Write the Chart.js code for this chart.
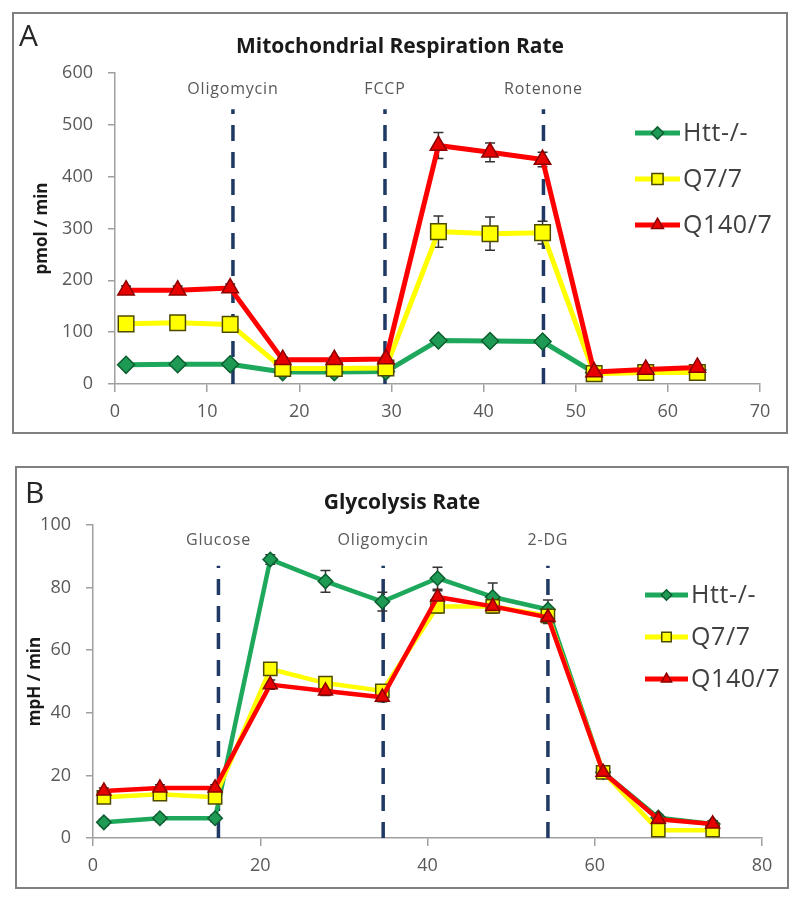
<!DOCTYPE html>
<html>
<head>
<meta charset="utf-8">
<script src="https://cdn.jsdelivr.net/npm/chart.js@4.4.1/dist/chart.umd.min.js"></script>
<style>
  body { margin: 0; background: #fff; width: 800px; height: 901px; position: relative; font-family: 'Open Sans', sans-serif; }
  .panel { position: absolute; border: 2px solid #808080; box-sizing: border-box; background: #fff; }
  #pA { left: 12px; top: 12px; width: 776px; height: 422px; }
  #pB { left: 15px; top: 466px; width: 774px; height: 423px; }
  .panel canvas { position: absolute; left: 0; top: 0; }
  .letter { position: absolute; font-size: 30px; line-height: 30px; color: #262626; }
  .ttl { position: absolute; left: 0; right: 0; text-align: center; font-weight: bold; font-size: 21px; line-height: 21px; color: #1a1a1a; }
</style>
</head>
<body>
<div class="panel" id="pA">
  <canvas id="chartA" width="772" height="418"></canvas>
  <div class="letter" style="left:5px;top:6px;">A</div>
  <div class="ttl" style="top:21px;">Mitochondrial Respiration Rate</div>
</div>
<div class="panel" id="pB">
  <canvas id="chartB" width="770" height="419"></canvas>
  <div class="letter" style="left:8px;top:9px;">B</div>
  <div class="ttl" style="top:23px;">Glycolysis Rate</div>
</div>
<script>
// ---- panel A: respiration (pmol / min) ----
var seriesNames = ['Htt-/-', 'Q7/7', 'Q140/7'];

var timeA = [1.2, 6.8, 12.5, 18.2, 23.8, 29.4, 35.1, 40.7, 46.4, 52.0, 57.6, 63.2];
var httA  = [37, 38, 38, 23, 23, 24, 84, 83, 82, 22, 25, 27];
var q77A  = [116, 118, 115, 30, 30, 31, 294, 290, 292, 20, 22, 22];
var q140A = [181, 181, 185, 47, 47, 48, 460, 447, 433, 23, 28, 32];
var httAErr  = [4, 4, 4, 3, 3, 3, 6, 6, 6, 3, 3, 3];
var q77AErr  = [8, 8, 8, 5, 5, 5, 30, 32, 22, 4, 4, 4];
var q140AErr = [8, 8, 8, 5, 5, 5, 25, 18, 14, 4, 5, 5];
var drugsA = ['Oligomycin', 'FCCP', 'Rotenone'];
var drugTimeA = [12.8, 29.3, 46.5];

// ---- panel B: glycolysis (mpH / min) ----
var timeB = [1.3, 8.0, 14.6, 21.2, 27.8, 34.6, 41.2, 47.8, 54.4, 61.0, 67.6, 74.1];
var httB  = [5, 6.3, 6.3, 89, 82, 75.5, 83, 77, 73, 21, 6.5, 4.5];
var q77B  = [13, 14, 13, 54, 49.5, 47, 74, 74, 71, 21, 2.5, 2.5];
var q140B = [15, 16, 16, 49, 47, 45, 77, 74, 70.5, 21, 6, 4.5];
var httBErr  = [1, 1, 1, 1.5, 3.5, 3, 3.5, 4.5, 3, 1, 1, 1];
var q77BErr  = [1, 1, 1, 1.5, 1.5, 1.5, 2, 2, 2, 1, 1, 1];
var q140BErr = [1, 1, 1, 1.5, 1.5, 1.5, 2, 2, 2, 1, 1, 1];
var drugsB = ['Glucose', 'Oligomycin', '2-DG'];
var drugTimeB = [15, 34.7, 54.4];

var looks = [
  { line: '#1ea85c', fill: '#1f9a55', edge: '#0b5e30', shape: 'rectRot', r: 8.5 },
  { line: '#ffff00', fill: '#ffff00', edge: '#4d4a00', shape: 'rect', r: 11 },
  { line: '#ff0000', fill: '#e60000', edge: '#8b0000', shape: 'triangle', r: 9.5 }
];

function pts(xs, ys) {
  return xs.map(function (x, i) { return { x: x, y: ys[i] }; });
}

// dashed injection markers with labels
var injectionPlugin = {
  id: 'injections',
  beforeDatasetsDraw: function (chart, args, opts) {
    var ctx = chart.ctx, xs = chart.scales.x, ys = chart.scales.y;
    ctx.save();
    ctx.strokeStyle = '#1f3864';
    ctx.lineWidth = 3.5;
    ctx.setLineDash([16, 11]);
    opts.at.forEach(function (t, i) {
      var px = xs.getPixelForValue(t);
      ctx.beginPath();
      ctx.moveTo(px, ys.getPixelForValue(opts.from));
      ctx.lineTo(px, ys.getPixelForValue(opts.to));
      ctx.stroke();
    });
    ctx.setLineDash([]);
    ctx.fillStyle = '#595959';
    ctx.font = '16px "Open Sans"';
    ctx.letterSpacing = '0.8px';
    ctx.textAlign = 'center';
    ctx.textBaseline = 'middle';
    opts.at.forEach(function (t, i) {
      ctx.fillText(opts.names[i], xs.getPixelForValue(t), ys.getPixelForValue(opts.labelAt));
    });
    ctx.restore();
  }
};

// error bars from dataset.errors
var errorPlugin = {
  id: 'errs',
  beforeDatasetsDraw: function (chart) {
    var ctx = chart.ctx, ys = chart.scales.y;
    ctx.save();
    ctx.strokeStyle = '#333333';
    ctx.lineWidth = 1.5;
    chart.data.datasets.forEach(function (ds, di) {
      var meta = chart.getDatasetMeta(di);
      meta.data.forEach(function (p, i) {
        var v = ds.data[i].y, e = ds.errors[i];
        var top = ys.getPixelForValue(v + e), bot = ys.getPixelForValue(v - e);
        ctx.beginPath();
        ctx.moveTo(p.x, top); ctx.lineTo(p.x, bot);
        ctx.moveTo(p.x - 5, top); ctx.lineTo(p.x + 5, top);
        ctx.moveTo(p.x - 5, bot); ctx.lineTo(p.x + 5, bot);
        ctx.stroke();
      });
    });
    ctx.restore();
  }
};

// legend drawn inside the plot, line + marker + name
var keyPlugin = {
  id: 'seriesKey',
  afterDraw: function (chart, args, opts) {
    var ctx = chart.ctx;
    ctx.save();
    chart.data.datasets.forEach(function (ds, i) {
      var y = opts.y + i * opts.dy;
      ctx.strokeStyle = ds.borderColor;
      ctx.lineWidth = 5;
      ctx.beginPath();
      ctx.moveTo(opts.x, y); ctx.lineTo(opts.x + opts.len, y);
      ctx.stroke();
      ctx.fillStyle = ds.pointBackgroundColor;
      ctx.strokeStyle = ds.pointBorderColor;
      ctx.lineWidth = 1.5;
      Chart.helpers.drawPoint(ctx, { pointStyle: ds.pointStyle, radius: ds.pointRadius * 0.72, borderWidth: 1.5 }, opts.x + opts.len / 2, y);
      ctx.fillStyle = '#404040';
      ctx.font = '25px "Open Sans"';
      ctx.letterSpacing = '0.6px';
      ctx.textAlign = 'left';
      ctx.textBaseline = 'middle';
      ctx.fillText(ds.label, opts.x + opts.len + 3, y + 1);
    });
    ctx.restore();
  }
};

function makeChart(id, times, ys, errs, cfg) {
  var datasets = ys.map(function (vals, i) {
    var lk = looks[i];
    return {
      label: seriesNames[i],
      data: pts(times, vals),
      errors: errs[i],
      borderColor: lk.line,
      borderWidth: cfg.lw,
      borderJoinStyle: 'round',
      pointStyle: lk.shape,
      pointRadius: lk.r * cfg.ms,
      pointBackgroundColor: lk.fill,
      pointBorderColor: lk.edge,
      pointBorderWidth: 1.5,
      order: 3 - i,
      tension: 0,
      clip: false
    };
  });
  var tickFont = { family: 'Open Sans', size: 18 };
  return new Chart(document.getElementById(id), {
    type: 'line',
    data: { datasets: datasets },
    options: {
      responsive: false,
      animation: false,
      events: [],
      layout: { padding: cfg.padding },
      plugins: {
        legend: { display: false },
        tooltip: { enabled: false },
        injections: cfg.inj,
        seriesKey: cfg.key
      },
      scales: {
        x: {
          type: 'linear', min: 0, max: cfg.xMax,
          afterFit: function (s) { s.height = cfg.xh; },
          ticks: { stepSize: cfg.xStep, color: '#595959', font: tickFont, padding: 9, maxRotation: 0 },
          grid: { drawOnChartArea: false, drawTicks: true, tickLength: 8, color: '#a0a0a0', lineWidth: 1.5 },
          border: { display: true, color: '#a0a0a0', width: 1.5 }
        },
        y: {
          min: 0, max: cfg.yMax,
          afterFit: function (s) { s.width = cfg.yw; },
          ticks: { stepSize: cfg.yStep, color: '#595959', font: tickFont, padding: 15 },
          grid: { drawOnChartArea: false, drawTicks: true, tickLength: 7, color: '#a0a0a0', lineWidth: 1.5 },
          border: { display: true, color: '#a0a0a0', width: 1.5 },
          title: { display: true, text: cfg.yTitle, color: '#1a1a1a', font: { family: 'Open Sans', size: 17, weight: 'bold' } }
        }
      }
    },
    plugins: [injectionPlugin, errorPlugin, keyPlugin]
  });
}

makeChart('chartA', timeA, [httA, q77A, q140A], [httAErr, q77AErr, q140AErr], {
  xMax: 70, xStep: 10, yMax: 600, yStep: 100, yTitle: 'pmol / min',
  padding: { left: 14, right: 26, top: 59, bottom: 0 }, yw: 87, xh: 48,
  lw: 5, ms: 1,
  inj: { at: drugTimeA, names: drugsA, from: 0, to: 530, labelAt: 569 },
  key: { x: 621, y: 119, dy: 46, len: 45 }
});

makeChart('chartB', timeB, [httB, q77B, q140B], [httBErr, q77BErr, q140BErr], {
  xMax: 80, xStep: 20, yMax: 100, yStep: 20, yTitle: 'mpH / min',
  padding: { left: 4, right: 25, top: 57, bottom: 0 }, yw: 72, xh: 49,
  lw: 4.5, ms: 0.85,
  inj: { at: drugTimeB, names: drugsB, from: 0, to: 87, labelAt: 95 },
  key: { x: 628, y: 127, dy: 42, len: 43 }
});
</script>
</body>
</html>
